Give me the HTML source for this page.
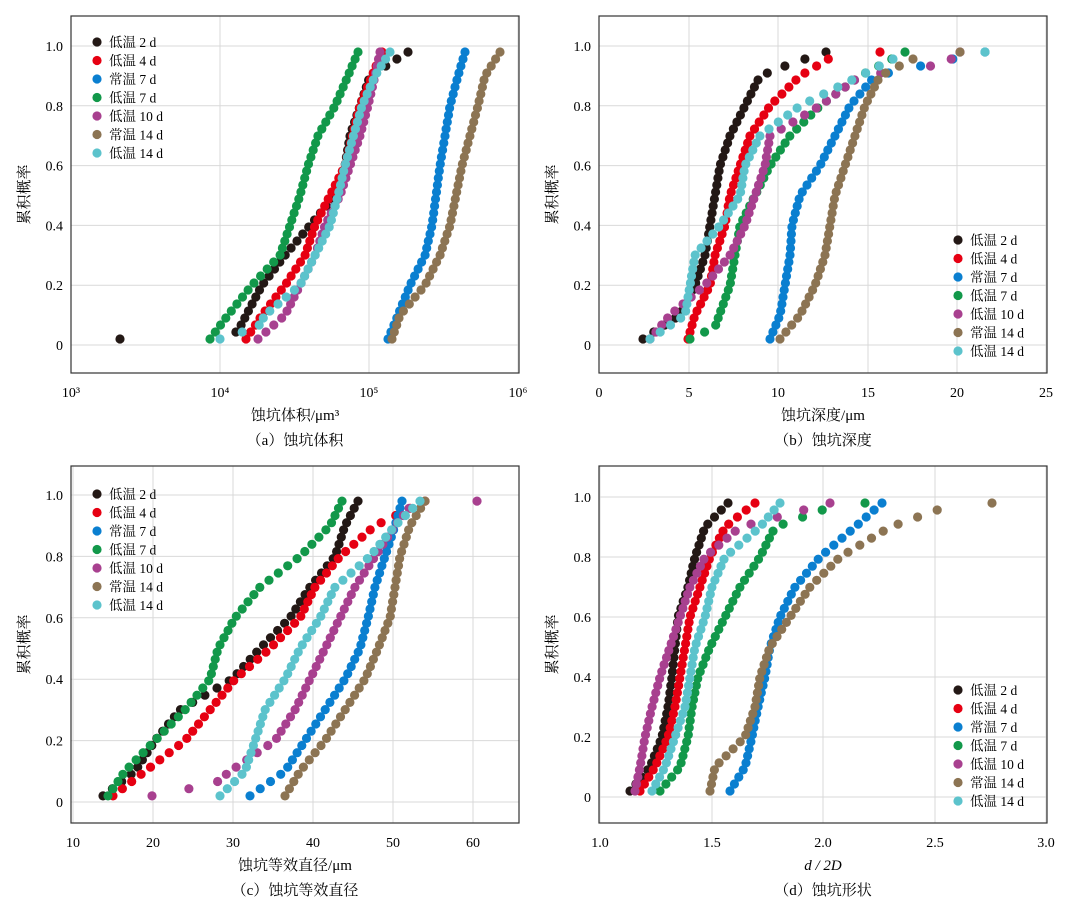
<!DOCTYPE html>
<html><head><meta charset="utf-8">
<style>
body{margin:0;background:#fff;}
svg{display:block;font-family:"Liberation Serif","Noto Serif CJK SC",serif;}
</style></head>
<body>
<svg id="s" width="1080" height="906" xmlns="http://www.w3.org/2000/svg"></svg>
<script>
const S=document.getElementById('s');let h='';
const cols=['#231815','#e60012','#0a7fd0','#12984a','#a8408f','#8c7453','#5cc3cc'];
const names=['低温 2 d','低温 4 d','常温 7 d','低温 7 d','低温 10 d','常温 14 d','低温 14 d'];
function panel(x0,y0,x1,y1,xt,yp0,yp1,xlabel,cap,legPos,data,xlabItalic){
  xt.forEach(t=>{h+=`<line x1="${t[0]}" y1="${y0}" x2="${t[0]}" y2="${y1}" stroke="#d9d9d9"/>`;
    h+=`<text x="${t[0]}" y="${y1+24}" font-size="14" text-anchor="middle">${t[1]}</text>`;});
  for(let i=0;i<=5;i++){const y=yp0+(yp1-yp0)*i/5;
    h+=`<line x1="${x0}" y1="${y}" x2="${x1}" y2="${y}" stroke="#d9d9d9"/>`;
    h+=`<text x="${x0-8}" y="${y+5}" font-size="14" text-anchor="end">${i==0?'0':(i/5).toFixed(1)}</text>`;}
  h+=`<rect x="${x0}" y="${y0}" width="${x1-x0}" height="${y1-y0}" fill="none" stroke="#333" stroke-width="1.2"/>`;
  h+=`<text x="${x0-42}" y="${(y0+y1)/2}" font-size="15" text-anchor="middle" transform="rotate(-90 ${x0-42} ${(y0+y1)/2})">累积概率</text>`;
  h+=`<text x="${(x0+x1)/2}" y="${y1+47}" font-size="15" text-anchor="middle"${xlabItalic?' font-style="italic"':''}>${xlabel}</text>`;
  h+=`<text x="${(x0+x1)/2}" y="${y1+72}" font-size="15" text-anchor="middle">${cap}</text>`;
  data.forEach((cp,k)=>{
    const n=42;
    for(let i=0;i<n;i++){const p=0.02+0.96*i/(n-1);
      let j=0;while(j<cp.length-2&&cp[j+1][0]<p)j++;
      const a=cp[j],b=cp[j+1];const t=(p-a[0])/(b[0]-a[0]);
      let x=a[1]+(b[1]-a[1])*t;const y=yp0+(yp1-yp0)*p;
      h+=`<circle cx="${x.toFixed(1)}" cy="${y.toFixed(1)}" r="4.6" fill="${cols[k]}"/>`;}
  });
  for(let k=0;k<7;k++){const y=legPos[1]+k*18.5;
    h+=`<circle cx="${legPos[0]}" cy="${y}" r="4.6" fill="${cols[k]}"/>`;
    h+=`<text x="${legPos[0]+12}" y="${y+5}" font-size="13.5">${names[k]}</text>`;}
}
panel(71,16,519,373,[[71,'10³'],[220,'10⁴'],[369,'10⁵'],[518,'10⁶']],345,46,'蚀坑体积/μm³','（a）蚀坑体积',[97,42],[
[[0.02,120],[0.04,235],[0.06,240],[0.2,262],[0.3,285],[0.4,310],[0.5,335],[0.6,345],[0.7,350],[0.8,360],[0.9,370],[0.98,408]],
[[0.02,246],[0.1,262],[0.2,285],[0.3,305],[0.4,315],[0.5,330],[0.6,345],[0.8,360],[0.9,372],[0.98,382]],
[[0.02,388],[0.1,398],[0.2,410],[0.3,425],[0.4,432],[0.6,440],[0.8,450],[0.9,458],[0.98,465]],
[[0.02,210],[0.1,228],[0.2,252],[0.3,280],[0.4,290],[0.5,300],[0.6,308],[0.7,318],[0.8,335],[0.9,348],[0.98,358]],
[[0.02,258],[0.1,285],[0.2,300],[0.3,315],[0.4,325],[0.5,340],[0.6,350],[0.7,360],[0.8,368],[0.9,375],[0.98,380]],
[[0.02,392],[0.1,400],[0.2,425],[0.3,440],[0.4,450],[0.6,462],[0.8,478],[0.9,485],[0.98,500]],
[[0.02,220],[0.06,258],[0.1,265],[0.2,300],[0.3,315],[0.4,330],[0.5,338],[0.6,345],[0.8,362],[0.9,375],[0.98,390]]]);
panel(599,16,1047,373,[[599,'0'],[689,'5'],[778,'10'],[868,'15'],[957,'20'],[1046,'25']],345,46,'蚀坑深度/μm','（b）蚀坑深度',[958,240],[
[[0.02,643],[0.1,680],[0.2,695],[0.3,705],[0.4,710],[0.5,715],[0.6,720],[0.7,730],[0.8,745],[0.9,760],[0.94,790],[0.98,826]],
[[0.02,688],[0.1,695],[0.2,710],[0.3,715],[0.4,725],[0.5,730],[0.6,740],[0.7,750],[0.8,770],[0.9,800],[0.96,830],[0.98,880]],
[[0.02,770],[0.1,780],[0.2,785],[0.3,790],[0.4,792],[0.5,800],[0.6,820],[0.7,835],[0.8,850],[0.9,875],[0.98,985]],
[[0.02,690],[0.06,715],[0.2,730],[0.3,735],[0.4,740],[0.5,755],[0.6,770],[0.7,790],[0.8,820],[0.9,860],[0.98,905]],
[[0.02,650],[0.1,670],[0.2,705],[0.3,730],[0.4,745],[0.5,755],[0.6,765],[0.7,770],[0.8,820],[0.9,860],[0.94,945],[0.98,960]],
[[0.02,780],[0.1,800],[0.2,815],[0.3,825],[0.4,830],[0.5,835],[0.6,845],[0.7,855],[0.8,865],[0.9,880],[0.96,915],[0.98,960]],
[[0.02,650],[0.1,685],[0.2,690],[0.3,695],[0.4,720],[0.5,740],[0.6,745],[0.7,760],[0.8,800],[0.9,860],[0.96,895],[0.98,985]]]);
panel(71,466,519,823,[[73,'10'],[153,'20'],[233,'30'],[313,'40'],[393,'50'],[473,'60']],802,495,'蚀坑等效直径/μm','（c）蚀坑等效直径',[97,494],[
[[0.02,103],[0.1,135],[0.2,155],[0.3,180],[0.4,232],[0.5,260],[0.6,290],[0.7,310],[0.8,335],[0.9,345],[0.98,358]],
[[0.02,113],[0.1,145],[0.2,185],[0.3,210],[0.4,235],[0.5,270],[0.6,300],[0.7,315],[0.8,340],[0.9,375],[0.98,425]],
[[0.02,250],[0.1,285],[0.2,305],[0.3,325],[0.4,345],[0.5,360],[0.6,368],[0.7,375],[0.8,385],[0.9,395],[0.98,402]],
[[0.02,108],[0.1,125],[0.2,155],[0.3,185],[0.4,210],[0.5,218],[0.6,235],[0.7,260],[0.8,300],[0.9,330],[0.98,342]],
[[0.02,152],[0.06,215],[0.1,230],[0.2,275],[0.3,295],[0.4,310],[0.5,325],[0.6,340],[0.7,355],[0.8,375],[0.9,395],[0.96,410],[0.98,477]],
[[0.02,285],[0.1,300],[0.2,325],[0.3,345],[0.4,365],[0.5,378],[0.6,390],[0.7,395],[0.8,400],[0.9,410],[0.98,425]],
[[0.02,220],[0.1,245],[0.2,255],[0.3,265],[0.4,285],[0.5,300],[0.6,320],[0.7,335],[0.8,370],[0.9,395],[0.98,420]]]);
panel(599,466,1047,823,[[600,'1.0'],[712,'1.5'],[823,'2.0'],[935,'2.5'],[1046,'3.0']],797,497,'d / 2D','（d）蚀坑形状',[958,690],[
[[0.02,630],[0.1,650],[0.2,662],[0.3,668],[0.4,672],[0.5,675],[0.6,678],[0.7,688],[0.8,695],[0.9,705],[0.98,728]],
[[0.02,640],[0.1,655],[0.2,668],[0.3,675],[0.4,680],[0.5,685],[0.6,690],[0.7,700],[0.8,710],[0.9,725],[0.98,755]],
[[0.02,730],[0.1,745],[0.2,752],[0.3,758],[0.4,765],[0.5,770],[0.6,780],[0.7,795],[0.8,820],[0.9,855],[0.98,882]],
[[0.02,660],[0.1,680],[0.2,688],[0.3,692],[0.4,698],[0.5,710],[0.6,725],[0.7,740],[0.8,760],[0.9,775],[0.96,825],[0.98,865]],
[[0.02,635],[0.1,640],[0.2,645],[0.3,652],[0.4,660],[0.5,670],[0.6,680],[0.7,690],[0.8,705],[0.9,740],[0.98,830]],
[[0.02,710],[0.1,715],[0.2,745],[0.3,755],[0.4,760],[0.5,770],[0.6,790],[0.7,810],[0.8,840],[0.9,890],[0.96,940],[0.98,992]],
[[0.02,652],[0.1,665],[0.2,675],[0.3,685],[0.4,690],[0.5,695],[0.6,705],[0.7,712],[0.8,725],[0.9,760],[0.98,780]]],true);
S.innerHTML=h;
</script>
</body></html>
